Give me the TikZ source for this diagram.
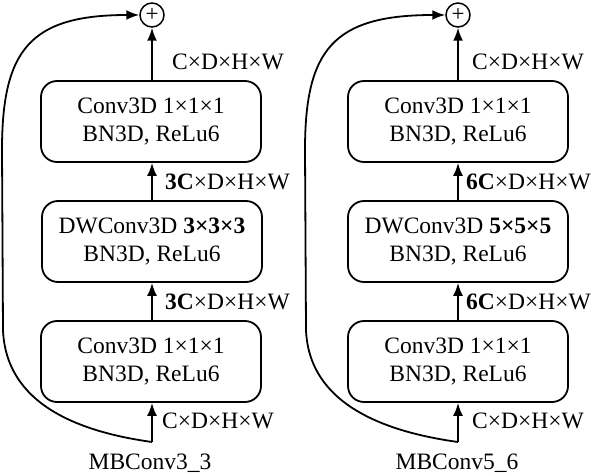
\documentclass[tikz,border=0pt]{standalone}
\usepackage{fontspec}
\setmainfont{Liberation Serif}
\usetikzlibrary{arrows.meta}
\begin{document}
\begin{tikzpicture}[x=1pt,y=-1pt,
  block/.style={draw, line width=1.8pt, rounded corners=16pt, minimum width=220pt, minimum height=81pt, align=center, inner sep=0pt, font=\fontsize{23.5}{28}\selectfont},
  sumnode/.style={draw, circle, line width=1.5pt, minimum size=24pt, inner sep=0pt, font=\fontsize{23}{23}\selectfont},
  flow/.style={line width=1.8pt, -{Latex[length=13pt,width=10pt]}},
  dim/.style={anchor=base west, inner sep=0pt, font=\fontsize{23.5}{28}\selectfont},
  captext/.style={anchor=base, inner sep=0pt, font=\fontsize{23.5}{28}\selectfont}
]
\useasboundingbox (0,0) rectangle (594,476);

% ---- left column ----
\node[sumnode] (sumL) at (152,15) {+};
\node[block] (topL) at (151,121.5) {Conv3D 1×1×1\\BN3D, ReLu6};
\node[block] (midL) at (152,241.5) {DWConv3D \textbf{3×3×3}\\BN3D, ReLu6};
\node[block] (botL) at (151,361.5) {Conv3D 1×1×1\\BN3D, ReLu6};
\coordinate (inL) at (152,442);
\draw[flow] (inL) -- (botL.south -| inL);
\draw[flow] (botL.north -| inL) -- (midL.south -| inL);
\draw[flow] (midL.north -| inL) -- (topL.south -| inL);
\draw[flow] (topL.north -| inL) -- (sumL.south);
\draw[flow] (inL) .. controls (80,432) and (6,405) .. (3,330) -- (2,150) .. controls (2,50) and (30,15) .. (sumL.west);
\node[dim] (dL1) at (172,70) {C×D×H×W};
\node[dim] (dL2) at (165,189) {\textbf{3C}×D×H×W};
\node[dim] (dL3) at (165,309) {\textbf{3C}×D×H×W};
\node[dim] (dL4) at (162,428) {C×D×H×W};
\node[captext] (capL) at (150,469) {MBConv3\_3};

% ---- right column ----
\node[sumnode] (sumR) at (458,15) {+};
\node[block] (topR) at (458,121.5) {Conv3D 1×1×1\\BN3D, ReLu6};
\node[block] (midR) at (458,241.5) {DWConv3D \textbf{5×5×5}\\BN3D, ReLu6};
\node[block] (botR) at (458,361.5) {Conv3D 1×1×1\\BN3D, ReLu6};
\coordinate (inR) at (458,442);
\draw[flow] (inR) -- (botR.south -| inR);
\draw[flow] (botR.north -| inR) -- (midR.south -| inR);
\draw[flow] (midR.north -| inR) -- (topR.south -| inR);
\draw[flow] (topR.north -| inR) -- (sumR.south);
\draw[flow] (inR) .. controls (386,432) and (309,405) .. (306,330) -- (305,150) .. controls (305,50) and (333,15) .. (sumR.west);
\node[dim] (dR1) at (472,70) {C×D×H×W};
\node[dim] (dR2) at (466,189) {\textbf{6C}×D×H×W};
\node[dim] (dR3) at (466,309) {\textbf{6C}×D×H×W};
\node[dim] (dR4) at (472,428) {C×D×H×W};
\node[captext] (capR) at (457,469) {MBConv5\_6};
\end{tikzpicture}
\end{document}
